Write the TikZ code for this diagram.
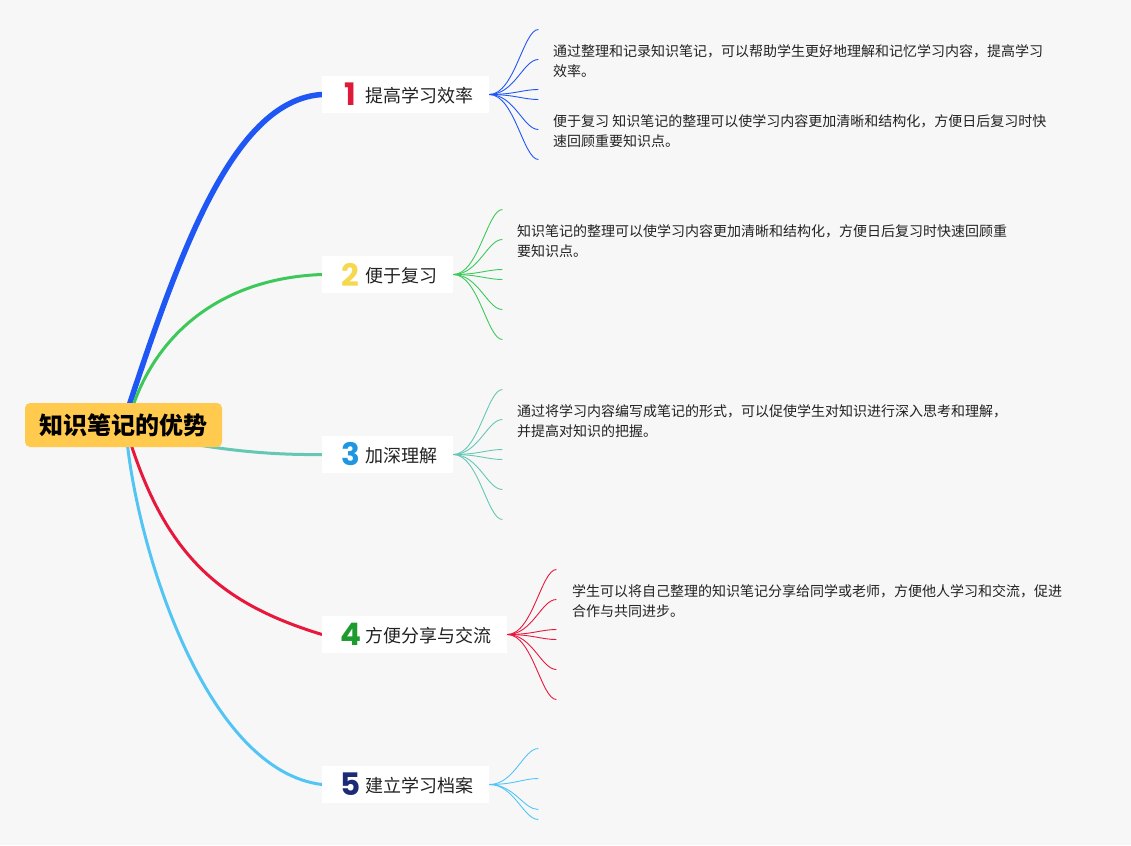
\documentclass[tikz,border=0pt]{standalone}
\usepackage{fontspec}
\newfontfamily\cjk{Noto Sans CJK SC}
\newfontfamily\digitfont{Poppins}
\usetikzlibrary{calc}
\pgfdeclarelayer{bg}
\pgfdeclarelayer{back}
\pgfsetlayers{back,bg,main}
\definecolor{bgc}{HTML}{F7F7F8}
\definecolor{rootc}{HTML}{FFCA4E}
\definecolor{cblue}{HTML}{1F57F5}
\definecolor{cgreen}{HTML}{3CC95A}
\definecolor{cteal}{HTML}{66C7B5}
\definecolor{cred}{HTML}{E8183D}
\definecolor{clight}{HTML}{52C5F5}
\definecolor{dred}{HTML}{E0193A}
\definecolor{dyellow}{HTML}{F6D84E}
\definecolor{dblue}{HTML}{1E96E0}
\definecolor{dgreen}{HTML}{1E9B2E}
\definecolor{dnavy}{HTML}{1C2A78}
\definecolor{txt}{HTML}{222222}
\begin{document}
\begin{tikzpicture}[x=1pt,y=-1pt,
  rootnode/.style={fill=rootc,rounded corners=5pt,minimum width=197pt,minimum height=44pt,inner sep=0pt,
    font=\cjk\bfseries\fontsize{24}{28}\selectfont,text=black},
  bbox/.style={fill=white,anchor=west,minimum height=37pt,inner sep=0pt},
  num/.style={inner sep=0pt,font=\digitfont\bfseries\fontsize{31}{34}\selectfont},
  btext/.style={anchor=west,inner sep=0pt,font=\cjk\fontsize{18}{22}\selectfont,text=txt},
  leaf/.style={anchor=north west,align=left,inner sep=0pt,font=\cjk\fontsize{14}{20}\selectfont,text=txt},
  fan/.style={line width=0.9pt},
  mainline/.style={line width=3pt}
]
\useasboundingbox (0,0) rectangle (1131,845);
\begin{pgfonlayer}{back}
\fill[bgc] (0,0) rectangle (1131,845);
\end{pgfonlayer}

% root
\node[rootnode] (root) at (123.5,425) {知识笔记的优势};

% branch boxes
\node[bbox,minimum width=167pt] (b1) at (322,94.5) {};
\node[bbox,minimum width=131pt] (b2) at (322,274.5) {};
\node[bbox,minimum width=131pt] (b3) at (322,454.5) {};
\node[bbox,minimum width=185pt] (b4) at (322,634.5) {};
\node[bbox,minimum width=167pt] (b5) at (322,784.5) {};

\node[num,text=dred] (d1) at (350.5,94.5) {1};
\node[num,text=dyellow] (d2) at (350.5,274.5) {2};
\node[num,text=dblue] (d3) at (350.5,454.5) {3};
\node[num,text=dgreen] (d4) at (350.5,634.5) {4};
\node[num,text=dnavy] (d5) at (350.5,784.5) {5};

\node[btext] (t1) at (365,95.5) {提高学习效率};
\node[btext] (t2) at (365,275.5) {便于复习};
\node[btext] (t3) at (365,455.5) {加深理解};
\node[btext] (t4) at (365,635.5) {方便分享与交流};
\node[btext] (t5) at (365,785.5) {建立学习档案};

% leaves
\node[leaf] (l1a) at (553,44) {通过整理和记录知识笔记，可以帮助学生更好地理解和记忆学习内容，提高学习\\效率。};
\node[leaf] (l1b) at (553,114) {便于复习 知识笔记的整理可以使学习内容更加清晰和结构化，方便日后复习时快\\速回顾重要知识点。};
\node[leaf] (l2) at (517,224) {知识笔记的整理可以使学习内容更加清晰和结构化，方便日后复习时快速回顾重\\要知识点。};
\node[leaf] (l3) at (517,404) {通过将学习内容编写成笔记的形式，可以促使学生对知识进行深入思考和理解，\\并提高对知识的把握。};
\node[leaf] (l4) at (572,584) {学生可以将自己整理的知识笔记分享给同学或老师，方便他人学习和交流，促进\\合作与共同进步。};

\begin{pgfonlayer}{bg}
% main connectors
\draw[cblue,line width=5.5pt] ($(root.north)+(4.5,6)$) .. controls (182,245) and (235,100) .. (b1.west);
\draw[cgreen,mainline] ($(root.north)+(8.5,6)$) .. controls (158,330) and (225,278) .. (b2.west);
\draw[cteal,mainline] ($(root.east)+(-30,19)$) .. controls (240,452) and (280,455) .. (b3.west);
\draw[cred,mainline] ($(root.south)+(6.5,-6)$) .. controls (167,557) and (222,604) .. (b4.west);
\draw[clight,mainline] ($(root.south)+(3.5,-6)$) .. controls (140,560) and (209,771) .. (b5.west);

% fans
\foreach \dy [count=\i] in {-65,-35,-5,5,35,65} {
  \coordinate (e1-\i) at ($(b1.east)+(49,\dy)$);
  \draw[fan,cblue] (b1.east) .. controls +(25,0) and +(-15,0) .. (e1-\i);
  \coordinate (e2-\i) at ($(b2.east)+(49,\dy)$);
  \draw[fan,cgreen] (b2.east) .. controls +(25,0) and +(-15,0) .. (e2-\i);
  \coordinate (e3-\i) at ($(b3.east)+(49,\dy)$);
  \draw[fan,cteal] (b3.east) .. controls +(25,0) and +(-15,0) .. (e3-\i);
  \coordinate (e4-\i) at ($(b4.east)+(49,\dy)$);
  \draw[fan,cred] (b4.east) .. controls +(25,0) and +(-15,0) .. (e4-\i);
}
\foreach \dy [count=\i] in {-36,-6,25,35} {
  \coordinate (e5-\i) at ($(b5.east)+(49,\dy)$);
  \draw[fan,clight] (b5.east) .. controls +(25,0) and +(-15,0) .. (e5-\i);
}
\end{pgfonlayer}
\end{tikzpicture}
\end{document}
